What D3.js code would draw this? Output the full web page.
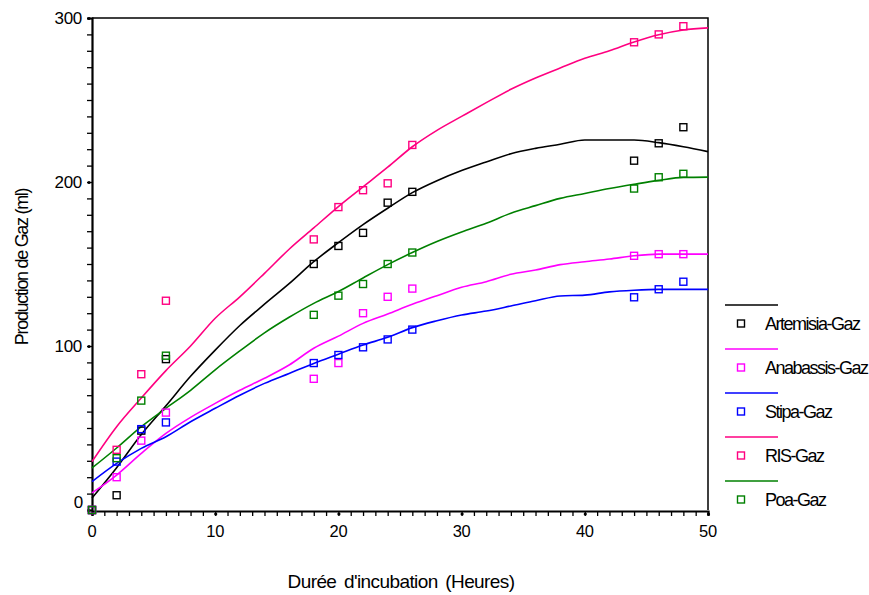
<!DOCTYPE html>
<html>
<head>
<meta charset="utf-8">
<script src="https://d3js.org/d3.v7.min.js"></script>
<style>
  body { margin: 0; background: #fff; }
  svg { display: block; font-family: "Liberation Sans", Arial, sans-serif; }
</style>
</head>
<body>
<div id="chart"></div>
<script>
// measured sample times (hours) and gas production (ml)
const hours = [0, 2, 4, 6, 18, 20, 22, 24, 26, 44, 46, 48];
const artemisia = [0, 9, 48.4, 92, 150, 161, 169, 187.4, 194, 213, 223.6, 233.4];
const anabassis = [0, 20, 42.3, 59.4, 80, 89.6, 120, 130, 135, 155, 156, 156];
const stipa = [0, 29.5, 49.3, 53.4, 89.6, 94.5, 99.2, 104, 110, 129.7, 134.6, 139.2];
const ris = [0, 36.7, 82.8, 127.6, 165, 184.7, 195, 199.2, 222.6, 285.2, 290, 295];
const poa = [0, 31.6, 66.7, 94.1, 119, 130.7, 137.8, 150, 157, 196, 202.9, 205];

// fitted curves, read every 2 hours from 0 to 50
const fitHours = [0, 2, 4, 6, 8, 10, 12, 14, 16, 18, 20, 22, 24, 26, 28, 30, 32, 34, 36, 38, 40, 42, 44, 46, 48, 50];
const artemisiaFit = [7.3, 25.8, 46, 63.5, 81.5, 97.5, 112.5, 125.5, 138, 151.4, 163, 174, 184, 193.5, 200.8, 207, 212.2, 217.2, 220.5, 223, 225.6, 225.6, 225.6, 224, 221.5, 218.5];
const anabassisFit = [10.4, 21.3, 34.5, 46.7, 56.5, 65, 73, 80.3, 88.4, 98.6, 106, 113.8, 119.5, 125.4, 130.7, 135.8, 139.2, 143.7, 146.3, 149.6, 151.4, 153, 155, 156, 156, 156];
const stipaFit = [17.3, 28.4, 37.6, 44.7, 53.8, 62, 70, 77.2, 83.3, 89.4, 95, 100.6, 105.3, 111.2, 115.4, 118.9, 121.3, 124.4, 127.6, 130.5, 131, 133, 134, 134.5, 134.5, 134.5];
const risFit = [29.5, 50.8, 68.3, 85, 100, 116.9, 130, 144.3, 159, 172, 185, 197, 209, 221.5, 231.5, 240, 248.4, 256.5, 263.4, 269.5, 275.4, 280, 285.4, 289.8, 292.7, 294];
const poaFit = [25.6, 37.8, 50.8, 62, 73, 85.5, 97, 108, 117.5, 126, 133.2, 141.5, 149.6, 157, 163.7, 169.5, 174.8, 181, 185.6, 190, 193, 196, 198.6, 201, 202.8, 203];

const seriesNames = ['Artemisia-Gaz', 'Anabassis-Gaz', 'Stipa-Gaz', 'RIS-Gaz', 'Poa-Gaz'];
const seriesColors = ['#000000', '#ff00ff', '#0000ff', '#ff0080', '#008000'];
const seriesPoints = [artemisia, anabassis, stipa, ris, poa];
const seriesFits = [artemisiaFit, anabassisFit, stipaFit, risFit, poaFit];

const xMajor = [0, 10, 20, 30, 40, 50];
const yMajor = [0, 100, 200, 300];

const width = 869, height = 595;
const svg = d3.select('#chart').append('svg')
    .attr('width', width)
    .attr('height', height);

const x = d3.scaleLinear().domain([0, 50]).range([92, 708]);
const y = d3.scaleLinear().domain([0, 300]).range([510, 18]);

// frame (top and right)
svg.append('path')
    .attr('d', `M${x(0)},${y(300)}H${x(50)}V${y(0)}`)
    .attr('fill', 'none')
    .attr('stroke', '#000')
    .attr('stroke-width', 1.5);

// x axis, minor ticks every hour
const xAxis = svg.append('g')
    .attr('transform', `translate(0,${y(0) + 1})`)
    .call(d3.axisBottom(x).tickValues(d3.range(0, 51, 1)).tickSize(5).tickFormat(''));
xAxis.select('.domain').attr('stroke-width', 2.2);
xAxis.selectAll('.tick line').attr('stroke-width', 1.3);
xAxis.selectAll('.tick')
    .filter(d => xMajor.includes(d))
    .append('circle')
    .attr('cy', 3)
    .attr('r', 1.6)
    .attr('fill', '#000');

svg.append('g')
    .selectAll('text')
    .data(xMajor)
    .join('text')
    .attr('x', d => x(d))
    .attr('y', 537)
    .attr('text-anchor', 'middle')
    .attr('font-size', '16.5px')
    .attr('letter-spacing', '-0.3px')
    .text(d => d);

// y axis, minor ticks every 10
const yAxis = svg.append('g')
    .attr('transform', `translate(${x(0)},0)`)
    .call(d3.axisLeft(y).tickValues(d3.range(0, 301, 10)).tickSize(5).tickFormat(''));
yAxis.select('.domain').attr('stroke-width', 2.2);
yAxis.selectAll('.tick line').attr('stroke-width', 1.3);
yAxis.selectAll('.tick')
    .filter(d => yMajor.includes(d))
    .append('circle')
    .attr('cx', -3)
    .attr('r', 1.6)
    .attr('fill', '#000');

svg.append('g')
    .selectAll('text')
    .data(yMajor)
    .join('text')
    .attr('x', d => d === 0 ? 83 : 82)
    .attr('y', d => y(d) + (d === 0 ? -2 : 6))
    .attr('text-anchor', 'end')
    .attr('font-size', '17px')
    .attr('letter-spacing', '-0.3px')
    .text(d => d);

// axis titles
svg.append('text')
    .attr('x', 401)
    .attr('y', 588)
    .attr('text-anchor', 'middle')
    .attr('font-size', '19px')
    .attr('letter-spacing', '-0.6px')
    .attr('word-spacing', '3px')
    .text("Durée d'incubation (Heures)");

svg.append('text')
    .attr('transform', 'translate(28,267) rotate(-90)')
    .attr('text-anchor', 'middle')
    .attr('font-size', '18px')
    .attr('letter-spacing', '-1.3px')
    .text('Production de Gaz (ml)');

// fitted curves
const line = d3.line()
    .x((d, i) => x(fitHours[i]))
    .y(d => y(d))
    .curve(d3.curveMonotoneX);

svg.append('g')
    .selectAll('path')
    .data(seriesFits)
    .join('path')
    .attr('d', line)
    .attr('fill', 'none')
    .attr('stroke', (d, i) => seriesColors[i])
    .attr('stroke-width', 1.6);

// observed points as hollow squares
const sq = 7;
seriesPoints.forEach((vals, i) => {
    svg.append('g')
        .selectAll('rect')
        .data(vals)
        .join('rect')
        .attr('x', (d, j) => x(hours[j]) - sq / 2)
        .attr('y', d => y(d) - sq / 2)
        .attr('width', sq)
        .attr('height', sq)
        .attr('fill', 'none')
        .attr('stroke', seriesColors[i])
        .attr('stroke-width', 1.4);
});

// legend
const legend = svg.append('g');
const legendY = d3.scaleLinear().domain([0, 4]).range([305, 481]);
seriesNames.forEach((name, i) => {
    const ly = legendY(i);
    legend.append('line')
        .attr('x1', 725).attr('x2', 778)
        .attr('y1', ly).attr('y2', ly)
        .attr('stroke', seriesColors[i])
        .attr('stroke-width', 1.5);
    legend.append('rect')
        .attr('x', 741 - sq / 2)
        .attr('y', ly + 18.5 - sq / 2)
        .attr('width', sq)
        .attr('height', sq)
        .attr('fill', 'none')
        .attr('stroke', seriesColors[i])
        .attr('stroke-width', 1.4);
    legend.append('text')
        .attr('x', 765)
        .attr('y', ly + 25)
        .attr('font-size', '18px')
        .attr('letter-spacing', '-1.5px')
        .text(name);
});
</script>
</body>
</html>
